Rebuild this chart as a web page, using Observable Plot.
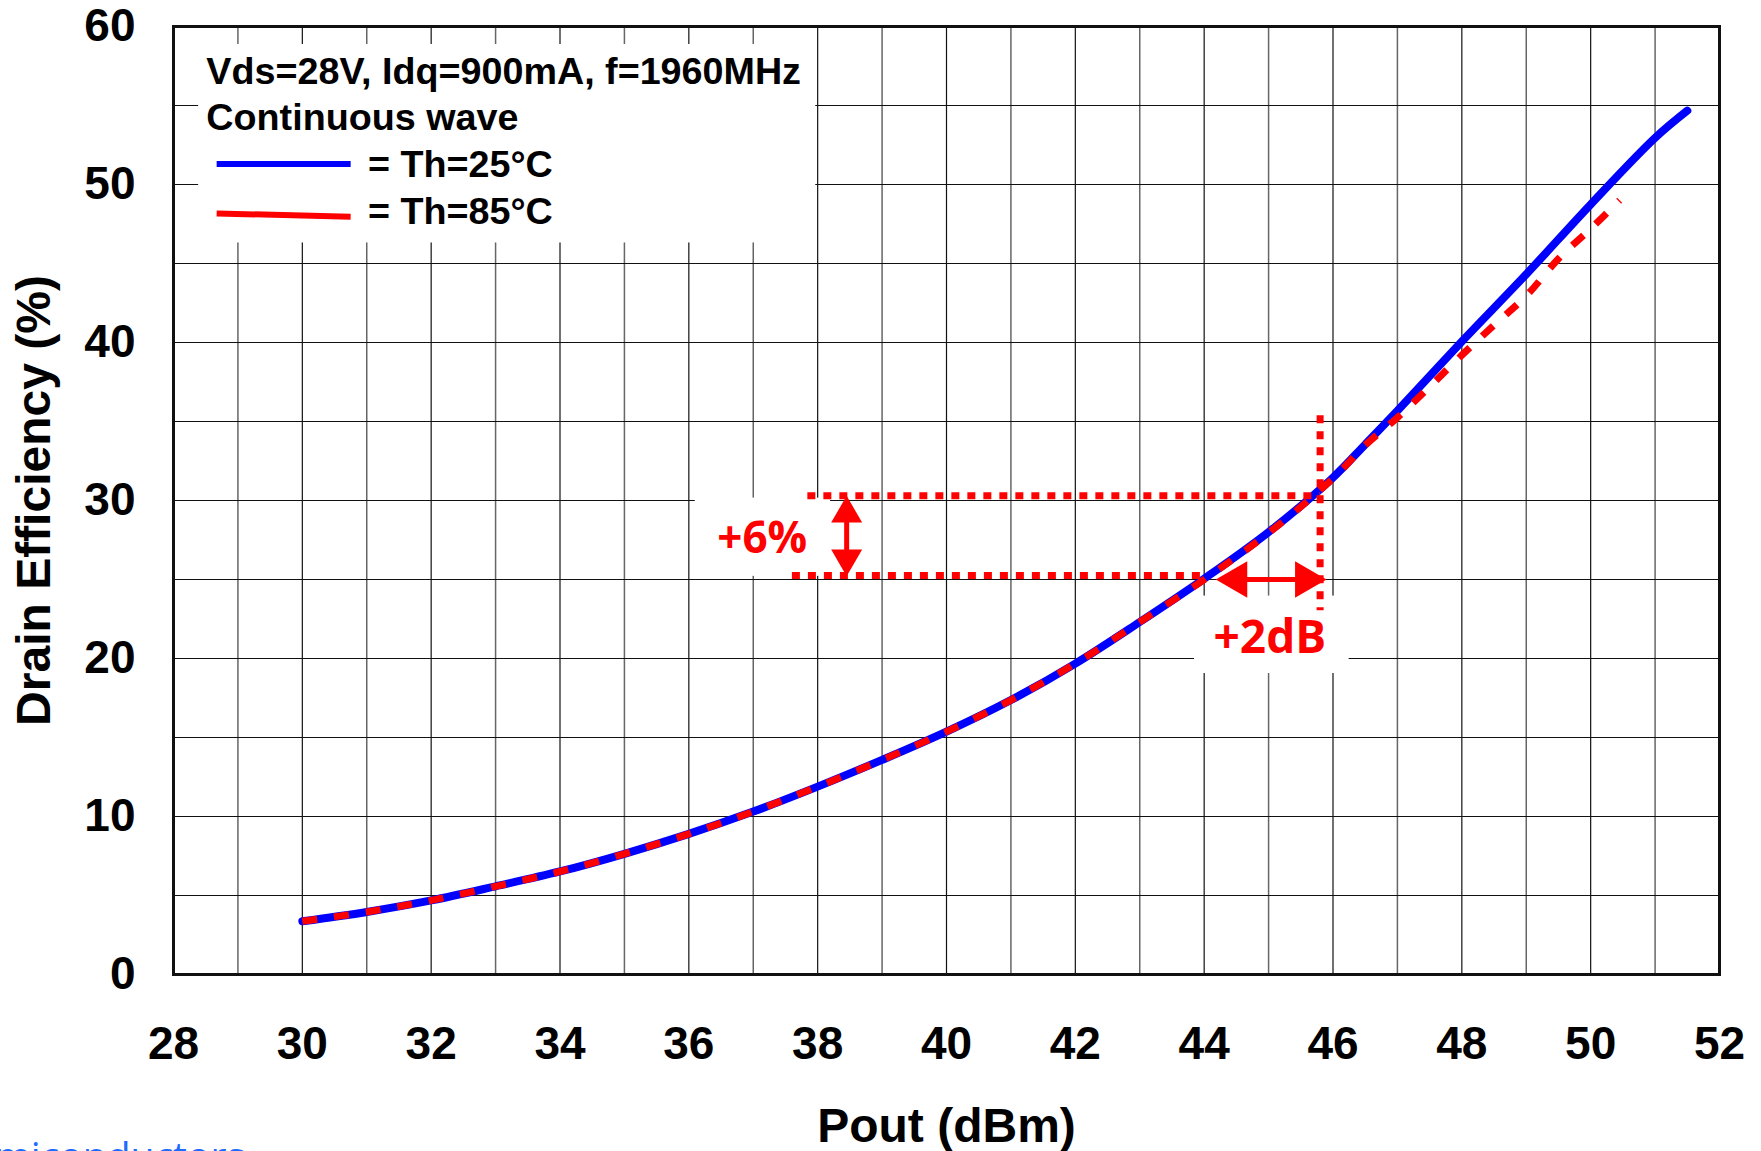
<!DOCTYPE html>
<html><head><meta charset="utf-8">
<script src="https://cdn.jsdelivr.net/npm/d3@7"></script>
<script src="https://cdn.jsdelivr.net/npm/@observablehq/plot@0.6"></script>
<style>
html,body{margin:0;padding:0;background:#fff;width:1761px;height:1151px;overflow:hidden;position:relative}
#chart{position:absolute;left:0;top:0}
#wm{position:absolute;right:1516px;top:1135px;font:400 39px "Open Sans",sans-serif;color:#1f6bff;line-height:1;white-space:nowrap}
</style></head><body>
<div id="chart"></div>
<div id="wm">semiconductors</div>
<script>
// ---- data ----
const pout25 = [30, 31, 32, 33, 34, 35, 36, 37, 38, 39, 40, 41, 42, 43, 44, 45, 46, 46.5, 47, 48, 49, 50, 51, 51.5];
const eff25  = [3.37, 3.96, 4.69, 5.58, 6.52, 7.64, 8.90, 10.31, 11.89, 13.58, 15.37, 17.37, 19.68, 22.31, 25.05, 28.0, 31.45, 33.55, 35.68, 40.06, 44.32, 48.74, 52.95, 54.67];
const pout85 = [30, 31, 32, 33, 34, 35, 36, 37, 38, 39, 40, 41, 42, 43, 44, 45, 46, 46.5, 47, 47.5, 48, 48.5, 49, 49.5, 50, 50.45];
const eff85  = [3.37, 3.96, 4.69, 5.58, 6.52, 7.64, 8.90, 10.31, 11.89, 13.58, 15.37, 17.37, 19.68, 22.31, 25.0, 27.95, 31.4, 33.5, 35.25, 37.2, 39.2, 41.1, 42.95, 45.3, 47.2, 49.0];
const xTicks = [28, 30, 32, 34, 36, 38, 40, 42, 44, 46, 48, 50, 52];
const yTicks = [0, 10, 20, 30, 40, 50, 60];
const xMinorGrid = [29, 31, 33, 35, 37, 39, 41, 43, 45, 47, 49, 51];
const xMajorGrid = [30, 32, 34, 36, 38, 40, 42, 44, 46, 48, 50];
const yGrid = [5, 10, 15, 20, 25, 30, 35, 40, 45, 50, 55];
const titleLines = ["Vds=28V, Idq=900mA, f=1960MHz", "Continuous wave"];
const seriesNames = ["= Th=25°C", "= Th=85°C"];
const seriesColors = ["#0000ff", "#ff0000"];
const xLabel = "Pout (dBm)";
const yLabel = "Drain Efficiency (%)";
const gainNote = ["+6%", "+2dB"];

// ---- annotation geometry (data units) ----
const whiteBoxes = [
  {x1: 28.39, x2: 37.97, y1: 46.3, y2: 58.86},
  {x1: 36.1, x2: 38.2, y1: 25.2, y2: 30.15},
  {x1: 43.85, x2: 46.25, y1: 19.05, y2: 23.95}
];
const dottedLines = [
  {x1: 37.84, y1: 30.3, x2: 45.8, y2: 30.3},
  {x1: 37.6, y1: 25.25, x2: 43.95, y2: 25.25},
  {x1: 45.8, y1: 35.4, x2: 45.8, y2: 23.05}
];
const arrowShafts = [
  {x1: 38.45, y1: 26.2, x2: 38.45, y2: 29.3},
  {x1: 44.5, y1: 25.0, x2: 45.5, y2: 25.0}
];
const titleRows = [
  {x: 28.51, y: 57.11, text: titleLines[0]},
  {x: 28.51, y: 54.22, text: titleLines[1]},
  {x: 31.02, y: 51.27, text: seriesNames[0]},
  {x: 31.02, y: 48.27, text: seriesNames[1]}
];
const legendSwatches = [
  {x1: 28.67, y1: 51.3, x2: 30.75, y2: 51.3, c: seriesColors[0]},
  {x1: 28.67, y1: 48.17, x2: 30.75, y2: 47.96, c: seriesColors[1]}
];
const noteRows = [
  {x: 37.14, y: 27.54, text: gainNote[0], size: 44},
  {x: 45.02, y: 21.28, text: gainNote[1], size: 46}
];

const s25 = pout25.map((x, i) => ({x, y: eff25[i]}));
const s85 = pout85.map((x, i) => ({x, y: eff85[i]}));
const RED = seriesColors[1];
const FONT = "'Liberation Sans', Arial, Helvetica, sans-serif";

const chart = Plot.plot({
  width: 1761, height: 1151,
  marginLeft: 173, marginRight: 42, marginTop: 26, marginBottom: 177,
  x: {domain: [28, 52]},
  y: {domain: [0, 60]},
  style: {fontFamily: FONT, background: "white", color: "#000", overflow: "visible"},
  marks: [
    Plot.gridX(xMinorGrid, {stroke: "#666", strokeOpacity: 1, strokeWidth: 1.5}),
    Plot.gridX(xMajorGrid, {stroke: "#111", strokeOpacity: 1, strokeWidth: 1.2}),
    Plot.gridY(yGrid, {stroke: "#111", strokeOpacity: 1, strokeWidth: 1.2}),
    Plot.rect(whiteBoxes, {x1: "x1", x2: "x2", y1: "y1", y2: "y2", fill: "white"}),
    Plot.line(s25, {x: "x", y: "y", stroke: seriesColors[0], strokeWidth: 8, curve: "catmull-rom", strokeLinecap: "round"}),
    Plot.line(s85, {x: "x", y: "y", stroke: RED, strokeWidth: 7, curve: "catmull-rom", strokeDasharray: "15,17", strokeLinecap: "butt"}),
    Plot.link(dottedLines, {x1: "x1", y1: "y1", x2: "x2", y2: "y2", stroke: RED, strokeWidth: 7, strokeDasharray: "8,8", strokeLinecap: "butt"}),
    Plot.link(arrowShafts, {x1: "x1", y1: "y1", x2: "x2", y2: "y2", stroke: RED, strokeWidth: 5}),
    Plot.dot([{x: 38.45, y: 30.3}], {x: "x", y: "y", symbol: "triangle", r: 11.5, fill: RED, stroke: null, rotate: 0, dy: 17.9}),
    Plot.dot([{x: 38.45, y: 25.2}], {x: "x", y: "y", symbol: "triangle", r: 11.5, fill: RED, stroke: null, rotate: 180, dy: -17.9}),
    Plot.dot([{x: 44.18, y: 25.0}], {x: "x", y: "y", symbol: "triangle", r: 13.5, fill: RED, stroke: null, rotate: -90, dx: 21}),
    Plot.dot([{x: 45.9, y: 25.0}], {x: "x", y: "y", symbol: "triangle", r: 13.5, fill: RED, stroke: null, rotate: 90, dx: -21}),
    Plot.text(noteRows.slice(0, 1), {x: "x", y: "y", text: "text", fill: RED, fontSize: 44, fontWeight: "bold", fontFamily: "'Open Sans', sans-serif", textAnchor: "middle", lineAnchor: "middle"}),
    Plot.text(noteRows.slice(1), {x: "x", y: "y", text: "text", fill: RED, fontSize: 46, fontWeight: "bold", fontFamily: "'Open Sans', sans-serif", textAnchor: "middle", lineAnchor: "middle"}),
    Plot.link(legendSwatches, {x1: "x1", y1: "y1", x2: "x2", y2: "y2", stroke: "c", strokeWidth: 6}),
    Plot.text(titleRows, {x: "x", y: "y", text: "text", fill: "#000", fontSize: 37.7, fontWeight: "bold", textAnchor: "start", lineAnchor: "middle"}),
    Plot.axisX(xTicks, {tickSize: 0, tickPadding: 52, fontSize: 46, fontWeight: "bold", label: null}),
    Plot.axisY(yTicks, {tickSize: 0, tickPadding: 38, fontSize: 46, fontWeight: "bold", label: null}),
    Plot.text([xLabel], {text: d => d, frameAnchor: "bottom", dy: 152, fontSize: 48, fontWeight: "bold", textAnchor: "middle", lineAnchor: "middle", fill: "#000"}),
    Plot.text([yLabel], {text: d => d, frameAnchor: "left", dx: -139, rotate: -90, fontSize: 48, fontWeight: "bold", textAnchor: "middle", lineAnchor: "middle", fill: "#000"}),
    Plot.frame({stroke: "#111", strokeWidth: 3})
  ]
});
document.getElementById("chart").appendChild(chart);
</script>
</body></html>
